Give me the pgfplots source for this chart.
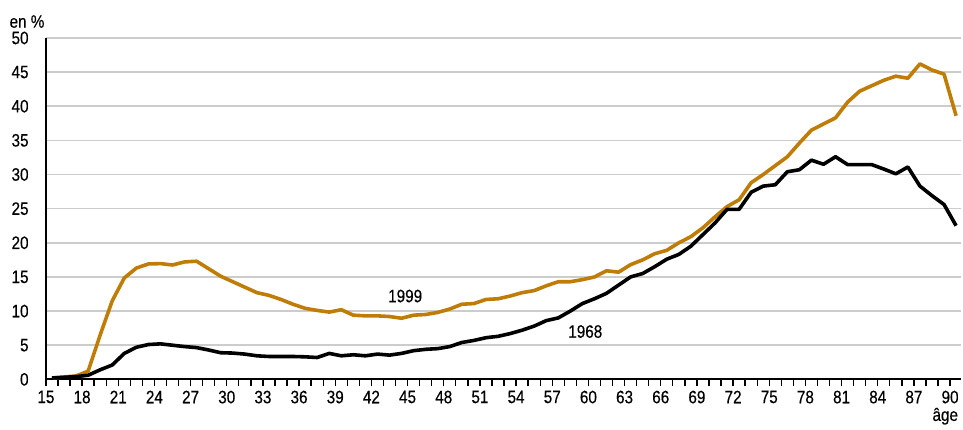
\documentclass[border=0pt]{standalone}
\usepackage{fontspec}
\setmainfont{Liberation Sans}[FakeStretch=0.85,FakeBold=0.3]
\usepackage{pgfplots}
\pgfplotsset{compat=1.18}
\definecolor{ocre}{RGB}{191,125,8}
\definecolor{gridgray}{RGB}{204,204,204}
\begin{document}
\begin{tikzpicture}
\path (-34.5pt,-33.75pt) rectangle (687.75pt,285pt);
\begin{axis}[
  at={(0pt,0pt)}, anchor=south west,
  scale only axis, width=687.75pt, height=256.5pt,
  xmin=15, xmax=90.94, ymin=0, ymax=50,
  axis x line*=bottom, axis y line*=left,
  axis line style={black, line width=1.5pt, -},
  xtick={15,18,...,90}, minor xtick={16,...,90},
  ytick={0,5,...,50},
  ymajorgrids,
  grid style={gridgray, line width=1.1pt},
  tick align=outside,
  major tick length=5pt, minor tick length=5pt,
  xtick style={black, line width=1pt},
  minor tick style={black, line width=1pt},
  ytick style={draw=none},
  /pgf/number format/assume math mode=true,
  tick label style={font=\fontsize{13.5}{15}\selectfont},
  yticklabel style={xshift=-4.5pt},
  clip=false,
]
\addplot[ocre, line width=2.7pt, line join=round] coordinates {
(15.5,0.2)(16.5,0.35)(17.5,0.5)(18.5,1.2)(19.5,6.5)(20.5,11.5)(21.5,14.85)(22.5,16.3)
(23.5,16.9)(24.5,16.95)(25.5,16.75)(26.5,17.2)(27.5,17.3)(28.5,16.2)(29.5,15.1)(30.5,14.3)
(31.5,13.5)(32.5,12.7)(33.5,12.3)(34.5,11.7)(35.5,11.0)(36.5,10.4)(37.5,10.1)(38.5,9.85)
(39.5,10.2)(40.5,9.4)(41.5,9.3)(42.5,9.3)(43.5,9.2)(44.5,8.95)(45.5,9.4)(46.5,9.5)
(47.5,9.8)(48.5,10.3)(49.5,11.0)(50.5,11.1)(51.5,11.7)(52.5,11.8)(53.5,12.2)(54.5,12.7)
(55.5,13.0)(56.5,13.7)(57.5,14.3)(58.5,14.3)(59.5,14.6)(60.5,15.0)(61.5,15.9)(62.5,15.7)
(63.5,16.8)(64.5,17.5)(65.5,18.4)(66.5,18.9)(67.5,20.0)(68.5,20.9)(69.5,22.2)(70.5,23.8)
(71.5,25.3)(72.5,26.3)(73.5,28.8)(74.5,30.0)(75.5,31.3)(76.5,32.6)(77.5,34.6)(78.5,36.5)
(79.5,37.4)(80.5,38.3)(81.5,40.6)(82.5,42.2)(83.5,43.0)(84.5,43.8)(85.5,44.4)(86.5,44.1)
(87.5,46.2)(88.5,45.3)(89.5,44.7)(90.5,38.6)
};
\addplot[black, line width=2.7pt, line join=round] coordinates {
(15.5,0.2)(16.5,0.3)(17.5,0.4)(18.5,0.6)(19.5,1.4)(20.5,2.1)(21.5,3.8)(22.5,4.7)
(23.5,5.1)(24.5,5.2)(25.5,5.0)(26.5,4.8)(27.5,4.65)(28.5,4.3)(29.5,3.9)(30.5,3.85)
(31.5,3.7)(32.5,3.45)(33.5,3.35)(34.5,3.35)(35.5,3.35)(36.5,3.3)(37.5,3.2)(38.5,3.8)
(39.5,3.45)(40.5,3.6)(41.5,3.45)(42.5,3.7)(43.5,3.55)(44.5,3.8)(45.5,4.2)(46.5,4.4)
(47.5,4.5)(48.5,4.8)(49.5,5.4)(50.5,5.7)(51.5,6.1)(52.5,6.3)(53.5,6.7)(54.5,7.2)
(55.5,7.8)(56.5,8.6)(57.5,9.0)(58.5,10.0)(59.5,11.1)(60.5,11.8)(61.5,12.6)(62.5,13.8)
(63.5,15.0)(64.5,15.5)(65.5,16.5)(66.5,17.6)(67.5,18.3)(68.5,19.5)(69.5,21.2)(70.5,22.9)
(71.5,24.9)(72.5,24.9)(73.5,27.4)(74.5,28.3)(75.5,28.5)(76.5,30.4)(77.5,30.7)(78.5,32.1)
(79.5,31.5)(80.5,32.6)(81.5,31.45)(82.5,31.45)(83.5,31.45)(84.5,30.8)(85.5,30.1)(86.5,31.1)
(87.5,28.3)(88.5,26.9)(89.5,25.6)(90.5,22.5)
};
\node[font=\fontsize{13.5}{15}\selectfont] at (axis cs:44.8,12.2) {1999};
\node[font=\fontsize{13.5}{15}\selectfont] at (axis cs:59.74,7.0) {1968};
\node[font=\fontsize{13.5}{15}\selectfont] at (axis cs:13.43,52.4) {en \%};
\node[font=\fontsize{13.5}{15}\selectfont] at (axis cs:89.6,-5.4) {âge};
\end{axis}
\end{tikzpicture}
\end{document}
